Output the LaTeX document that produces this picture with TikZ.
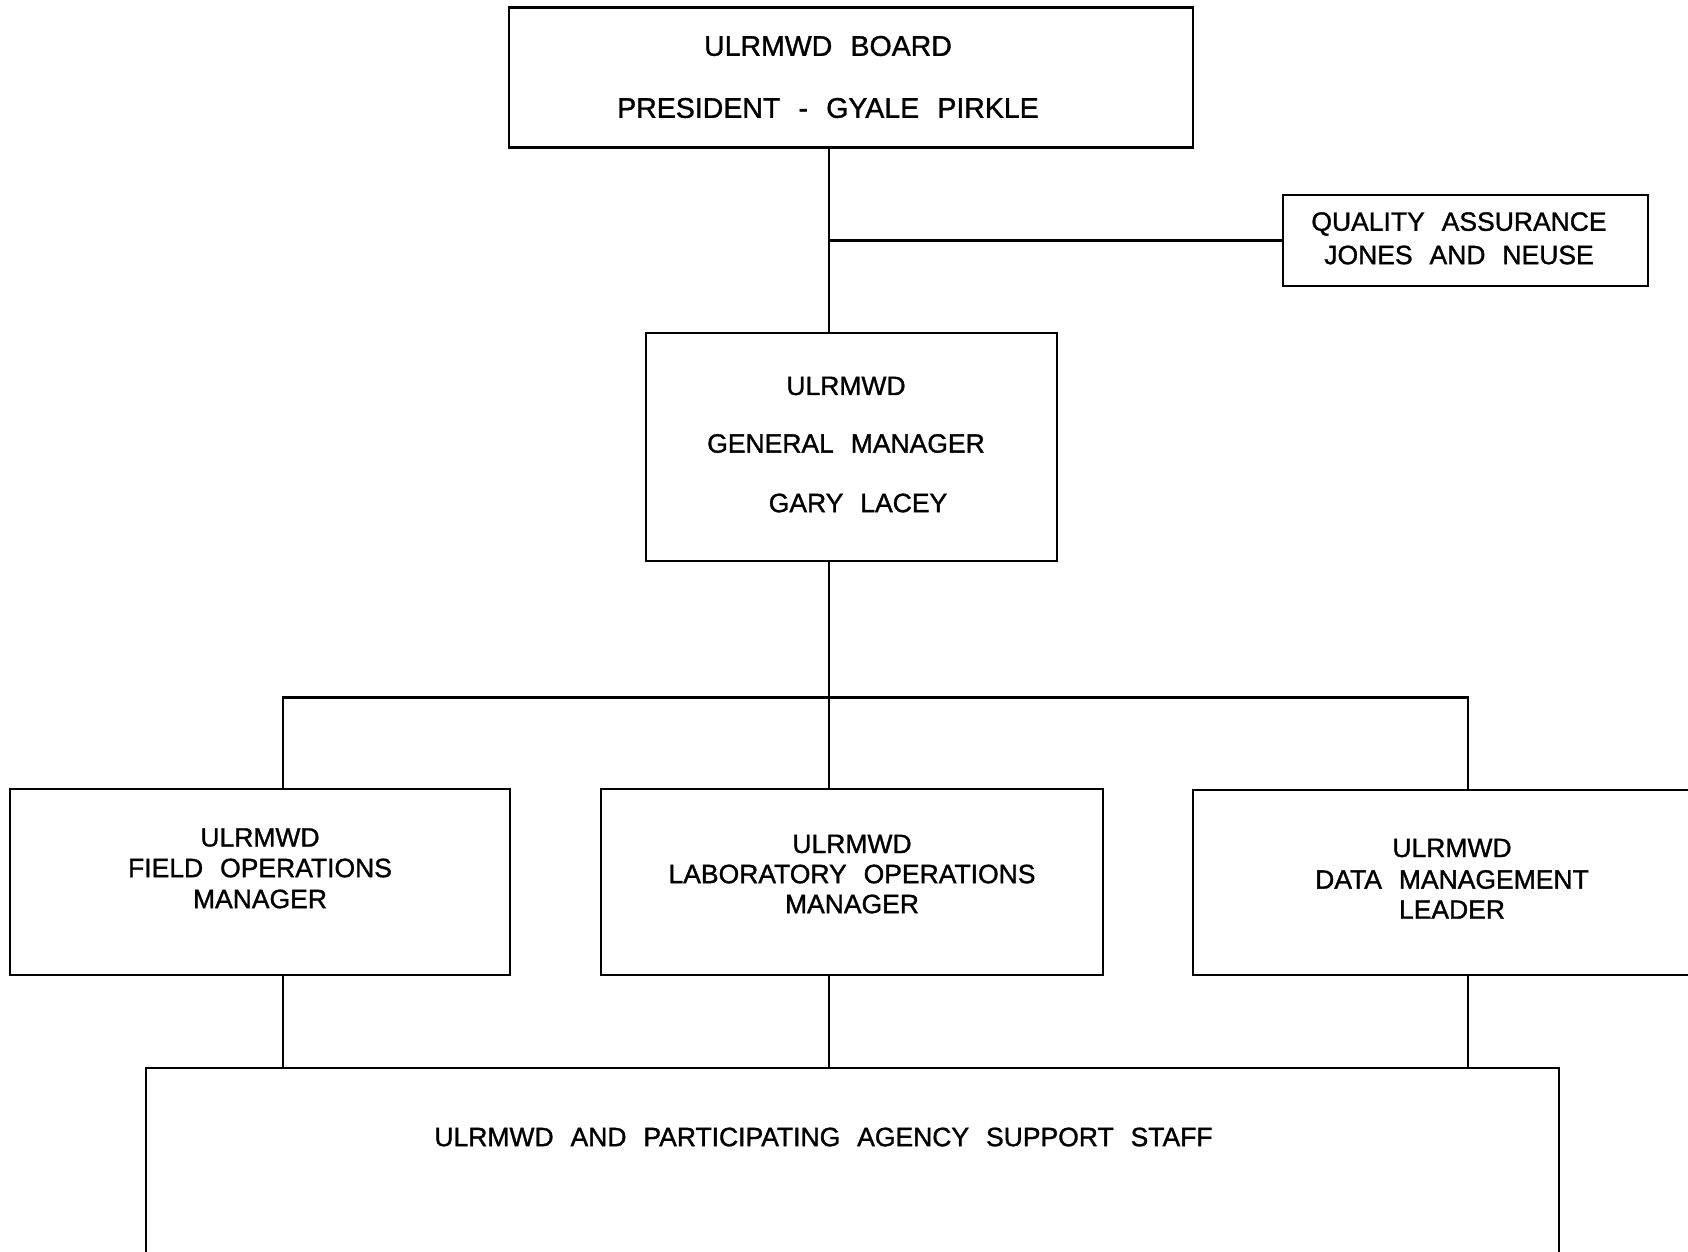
\documentclass[tikz,border=0pt]{standalone}
\usepackage{fontspec}
\setmainfont{Liberation Sans}[WordSpace=2.3,FakeBold=1.2]
\begin{document}
\begin{tikzpicture}[x=1pt,y=-1pt,
  box/.style={draw,line width=2.5pt,rectangle,inner sep=0pt},
  txt/.style={inner sep=0pt,anchor=center,font=\fontsize{26.5}{28}\selectfont},
  bigtxt/.style={inner sep=0pt,anchor=center,font=\fontsize{28.5}{30}\selectfont},
  conn/.style={line width=2.5pt}]
\useasboundingbox (0,0) rectangle (1688,1251);
% boxes
\node[box,minimum width=684pt,minimum height=140pt] (board) at (851,77.5) {};
\node[box,minimum width=365pt,minimum height=91pt] (qa) at (1465.5,240.5) {};
\node[box,minimum width=411pt,minimum height=228pt] (gm) at (851.5,447) {};
\node[box,minimum width=500pt,minimum height=186pt] (field) at (260,882) {};
\node[box,minimum width=502pt,minimum height=186pt] (lab) at (852,882) {};
\node[box,minimum width=520pt,minimum height=185pt] (data) at (1453,882.5) {};
\node[box,minimum width=1413pt,minimum height=260pt] (staff) at (852.5,1198) {};
% texts
\node[bigtxt] (t1) at (828,46) {ULRMWD BOARD};
\node[bigtxt] (t2) at (828,108) {PRESIDENT - GYALE PIRKLE};
\node[txt] (t3) at (1459,224) {QUALITY ASSURANCE};
\node[txt] (t4) at (1459,255) {JONES AND NEUSE};
\node[txt] (t5) at (846,386) {ULRMWD};
\node[txt] (t6) at (846,443.5) {GENERAL MANAGER};
\node[txt] (t7) at (858,503) {GARY LACEY};
\node[txt] (t8) at (260,837.5) {ULRMWD};
\node[txt] (t9) at (260,868) {FIELD OPERATIONS};
\node[txt] (t10) at (260,899) {MANAGER};
\node[txt] (t11) at (852,844) {ULRMWD};
\node[txt] (t12) at (852,874) {LABORATORY OPERATIONS};
\node[txt] (t13) at (852,904) {MANAGER};
\node[txt] (t14) at (1452,848) {ULRMWD};
\node[txt] (t15) at (1452,879.5) {DATA MANAGEMENT};
\node[txt] (t16) at (1452,909.6) {LEADER};
\node[txt] (t17) at (823.5,1137) {ULRMWD AND PARTICIPATING AGENCY SUPPORT STAFF};
% connectors
\coordinate (spine) at (829,0);
\coordinate (busL) at (283,697.5);
\coordinate (busR) at (1468,697.5);
\draw[conn] (board.south -| spine) -- (gm.north -| spine);
\draw[conn] (spine |- qa.west) -- (qa.west);
\draw[conn] (gm.south -| spine) -- (lab.north -| spine);
\draw[conn] (field.north -| busL) -- (busL) -- (busR) -- (data.north -| busR);
\draw[conn] (field.south -| busL) -- (staff.north -| busL);
\draw[conn] (lab.south -| spine) -- (staff.north -| spine);
\draw[conn] (data.south -| busR) -- (staff.north -| busR);
\end{tikzpicture}
\end{document}
